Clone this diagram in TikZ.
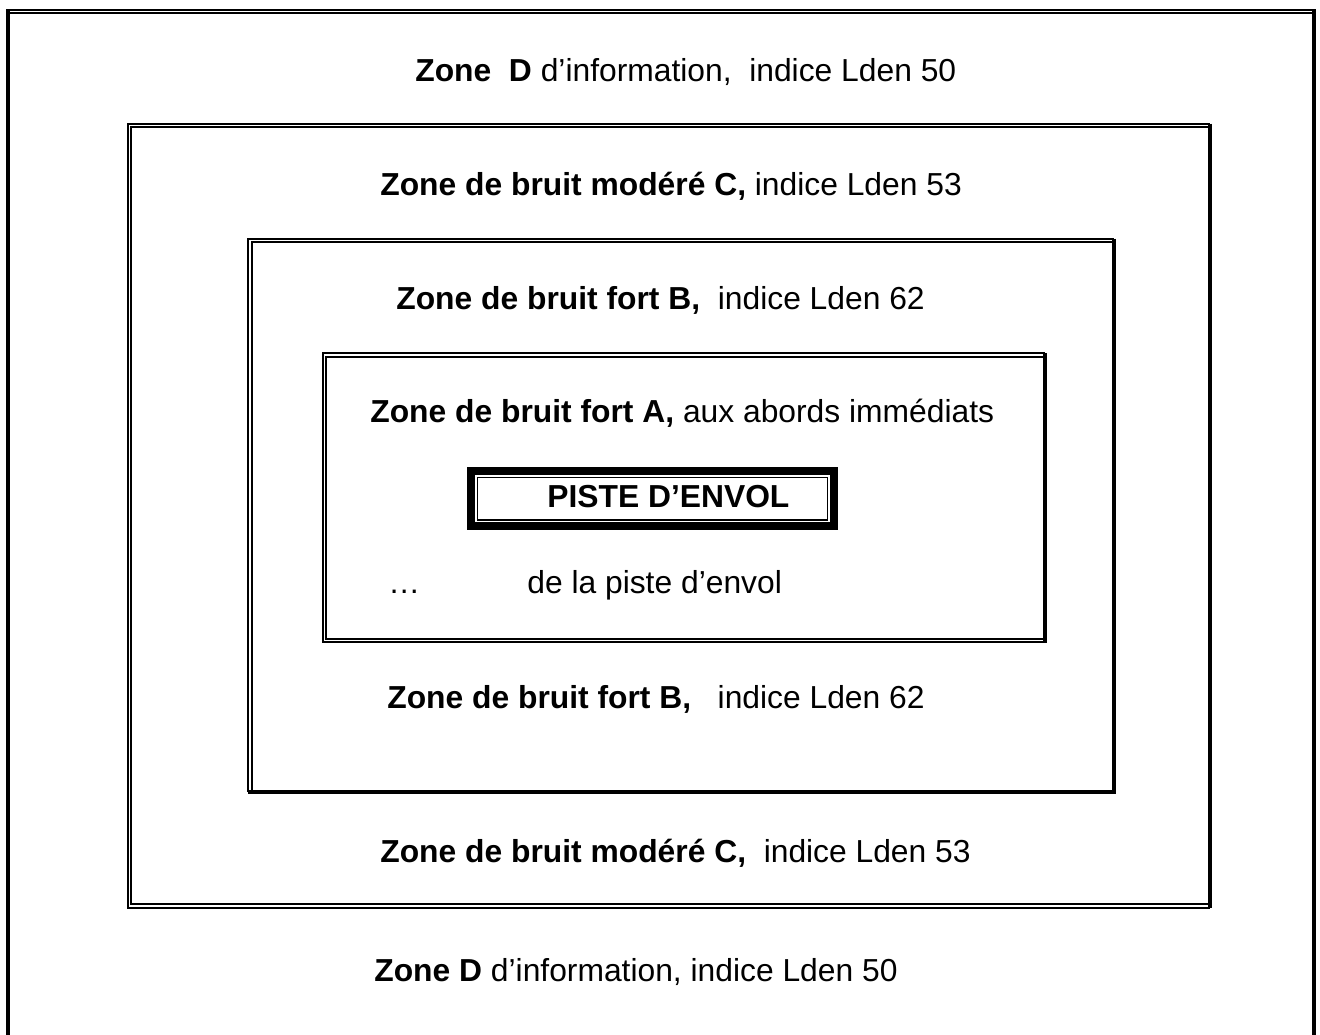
\documentclass[tikz,border=0pt]{standalone}
\usepackage{fontspec}
\setmainfont{Liberation Sans}
\usepackage{tikz}
\tikzstyle{zonetext}=[anchor=west, inner sep=0pt, font=\fontsize{18.1}{21}\selectfont]
\tikzstyle{dblrule}=[line width=1.1pt, double=white, double distance=0.85pt]
\tikzstyle{thickrule}=[line width=2.3pt]

\begin{document}
\begin{tikzpicture}[x=0.02cm,y=-0.02cm]
      \useasboundingbox (0,0) rectangle (1320,1035);
      \draw [dblrule] (6,11.5) -- (1316,11.5);
      \draw [thickrule] (8,10) -- (8,1045);
      \draw [thickrule] (1314,10) -- (1314,1045);
      \draw [dblrule] (1210,125.5) -- (129.5,125.5) -- (129.5,906) -- (1210,906);
      \draw [thickrule] (1210,123.5) -- (1210,908);
      \draw [dblrule] (1114,240.5) -- (250,240.5) -- (250,792);
      \draw [thickrule] (1114,238.5) -- (1114,792) -- (248,792);
      \draw [dblrule] (1045,355) -- (324.5,355) -- (324.5,640.5) -- (1045,640.5);
      \draw [thickrule] (1045,353) -- (1045,642.5);
      \draw [line width=4.5pt] (471,471) rectangle (834,526);
      \draw [line width=0.6pt] (477.5,477.5) rectangle (827.5,520);
      \node [zonetext] (dtop) at (415,72) {\textbf{Zone\ \ D} d’information,\ \ indice Lden 50};
      \node [zonetext] (ctop) at (380,186) {\textbf{Zone de bruit modéré C,} indice Lden 53};
      \node [zonetext] (btop) at (396,300) {\textbf{Zone de bruit fort B,}\ \ indice Lden 62};
      \node [zonetext] (azone) at (370,413) {\textbf{Zone de bruit fort A,} aux abords immédiats};
      \node [zonetext] (piste) at (547,497) {\textbf{PISTE D’ENVOL}};
      \node [zonetext] (dots) at (388,592) {…};
      \node [zonetext] (pisteb) at (527,585) {de la piste d’envol};
      \node [zonetext] (bbot) at (387,699) {\textbf{Zone de bruit fort B,}\ \ \ indice Lden 62};
      \node [zonetext] (cbot) at (380,853) {\textbf{Zone de bruit modéré C,}\ \ indice Lden 53};
      \node [zonetext] (dbot) at (374,972) {\textbf{Zone D} d’information, indice Lden 50};
    \end{tikzpicture}
\end{document}
